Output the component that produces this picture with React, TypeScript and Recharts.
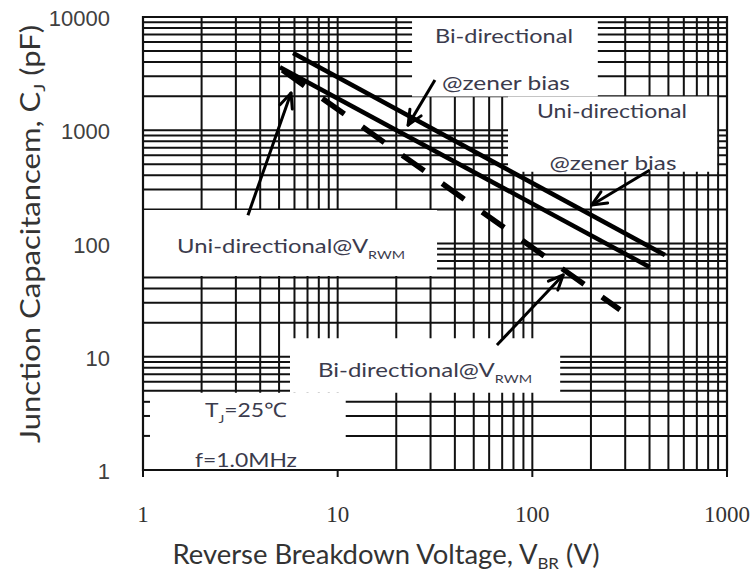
import React from 'react';
import {
  ComposedChart,
  Line,
  XAxis,
  YAxis,
  CartesianGrid,
  ReferenceArea,
  ReferenceLine,
  ReferenceDot,
} from 'recharts';

// ---- series (V_BR in volts, C_J in pF) ----
const biZenerBias = [
  { v: 5.9, c: 4800 },
  { v: 480, c: 79 },
];
const uniZenerBias = [
  { v: 5.05, c: 3600 },
  { v: 400, c: 62 },
];
const atVrwm = [
  { v: 5.2, c: 3400 },
  { v: 282, c: 26 },
];

// ---- axes ----
const X_TICKS = [1, 2, 3, 4, 5, 6, 7, 8, 9, 10, 20, 30, 40, 50, 60, 70, 80, 90, 100, 200, 300, 400, 500, 600, 700, 800, 900, 1000];
const Y_TICKS = [
  1, 2, 3, 4, 5, 6, 7, 8, 9, 10, 20, 30, 40, 50, 60, 70, 80, 90, 100, 200, 300, 400, 500, 600, 700, 800, 900, 1000,
  2000, 3000, 4000, 5000, 6000, 7000, 8000, 9000, 10000,
];
const X_LABEL_TICKS = [1, 10, 100, 1000];
const Y_LABEL_TICKS = [1, 10, 100, 1000, 10000];
const Y_INNER_TICKS = [2, 3, 4];

// ---- annotation boxes (white label backgrounds), data units ----
const BOX_V1 = [24.1, 75, 1, 5.69, 1];
const BOX_V2 = [217, 890, 32.4, 139, 11];
const BOX_C1 = [1990, 430, 51.6, 4.8, 1];
const BOX_C2 = [10000, 1990, 198, 14.6, 4.8];

// ---- arrows (tail -> tip), data units ----
const ARROW_TAIL_V = [3.46, 31.6, 402, 65.8];
const ARROW_TAIL_C = [178, 2780, 446, 12.7];
const ARROW_TIP_V = [5.76, 23, 202, 144];
const ARROW_TIP_C = [2130, 1110, 219, 52.7];

// ---- notes ----
const NOTE_V = [71.5, 73.2, 256.6, 259.6, 5.76, 28.1, 3.38, 3.38];
const NOTE_C = [5890, 2266, 1283, 446, 82.4, 6.62, 2.94, 1.063];
const NOTE_MAIN = ['Bi-directional', '@zener bias', 'Uni-directional', '@zener bias', 'Uni-directional@V', 'Bi-directional@V', 'T', 'f=1.0MHz'];
const NOTE_SUB = ['', '', '', '', 'RWM', 'RWM', 'J', ''];
const NOTE_AFTER = ['', '', '', '', '', '', '=25℃', ''];

const NOTE_WIDTH = [138, 128, 150, 127, 228, 214, 82, 102];

const LABEL_FONT = 'Lato, Carlito, "Open Sans", sans-serif';
const LABEL_COLOR = '#3b3b4d';

const XTick = (props: any) => {
  const { x, y, payload } = props;
  const v = payload.value;
  if (!X_LABEL_TICKS.includes(v)) return <g />;
  return (
    <g>
      <line x1={x} y1={y} x2={x} y2={y + 7} stroke="#111" strokeWidth={2} />
      <text
        x={x}
        y={y + 52}
        textAnchor="middle"
        fontFamily='"Liberation Serif", "Times New Roman", serif'
        fontSize={23}
        fill="#333"
      >
        {v}
      </text>
    </g>
  );
};

const YTick = (props: any) => {
  const { x, y, payload } = props;
  const v = payload.value;
  if (Y_LABEL_TICKS.includes(v)) {
    return (
      <text
        x={x - 33}
        y={y + 9}
        textAnchor="end"
        fontFamily='"Liberation Sans", Arial, sans-serif'
        fontSize={22}
        fill="#404040"
      >
        {v}
      </text>
    );
  }
  if (Y_INNER_TICKS.includes(v)) {
    return <line x1={x} y1={y} x2={x + 7} y2={y} stroke="#111" strokeWidth={2} />;
  }
  return <g />;
};

const XTitle = (props: any) => {
  const vb = props.viewBox || { x: 143, y: 470, width: 584, height: 114 };
  return (
    <text
      x={vb.x + 243}
      y={vb.y + 94}
      textAnchor="middle"
      fontFamily={LABEL_FONT}
      fontSize={26}
      fill="#333"
      textLength={427}
      lengthAdjust="spacingAndGlyphs"
    >
      Reverse Breakdown Voltage, V
      <tspan fontSize={16} dy={5}>BR</tspan>
      <tspan dy={-5}> (V)</tspan>
    </text>
  );
};

const YTitle = (props: any) => {
  const cx = 40;
  const cy = 234;
  return (
    <text
      x={cx}
      y={cy}
      transform={`rotate(-90, ${cx}, ${cy})`}
      textAnchor="middle"
      fontFamily={LABEL_FONT}
      fontSize={26}
      fill="#333"
      textLength={418}
      lengthAdjust="spacingAndGlyphs"
    >
      Junction Capacitancem, C
      <tspan fontSize={16} dy={5}>J</tspan>
      <tspan dy={-5}> (pF)</tspan>
    </text>
  );
};

const makeArrow = () => (p: any) => {
  const { x1, y1, x2, y2 } = p;
  const ang = Math.atan2(y2 - y1, x2 - x1);
  const L = 16;
  const spread = 0.42;
  const ax = x2 - L * Math.cos(ang - spread);
  const ay = y2 - L * Math.sin(ang - spread);
  const bx = x2 - L * Math.cos(ang + spread);
  const by = y2 - L * Math.sin(ang + spread);
  return (
    <g>
      <line x1={x1} y1={y1} x2={x2} y2={y2} stroke="#000" strokeWidth={3} />
      <line x1={x2} y1={y2} x2={ax} y2={ay} stroke="#000" strokeWidth={3} strokeLinecap="round" />
      <line x1={x2} y1={y2} x2={bx} y2={by} stroke="#000" strokeWidth={3} strokeLinecap="round" />
    </g>
  );
};

const makeNote = (i: number) => (p: any) => {
  const { cx, cy } = p;
  return (
    <text
      x={cx}
      y={cy}
      textAnchor="middle"
      fontFamily={LABEL_FONT}
      fontSize={20}
      fill={LABEL_COLOR}
      textLength={NOTE_WIDTH[i]}
      lengthAdjust="spacingAndGlyphs"
    >
      {NOTE_MAIN[i]}
      {NOTE_SUB[i] ? (
        <tspan fontSize={12} dy={6}>
          {NOTE_SUB[i]}
        </tspan>
      ) : null}
      {NOTE_AFTER[i] ? <tspan dy={-6}>{NOTE_AFTER[i]}</tspan> : null}
    </text>
  );
};

export default function App() {
  return (
    <div style={{ position: 'absolute', left: 0, top: 0, width: 755, height: 584, background: '#fff' }}>
      <ComposedChart width={755} height={584} margin={{ top: 17, right: 28, bottom: 0, left: 0 }}>
        <CartesianGrid
          stroke="#111"
          strokeWidth={2}
          horizontalValues={Y_TICKS}
          verticalValues={X_TICKS}
        />
        {BOX_V1.map((v1, i) => (
          <ReferenceArea
            key={'box' + i}
            x1={v1}
            x2={BOX_V2[i]}
            y1={BOX_C1[i]}
            y2={BOX_C2[i]}
            fill="#fff"
            fillOpacity={1}
            stroke="none"
            zIndex={50}
            ifOverflow="visible"
          />
        ))}
        <XAxis
          type="number"
          dataKey="v"
          scale="log"
          domain={[1, 1000]}
          ticks={X_TICKS}
          interval={0}
          allowDataOverflow
          tick={XTick}
          tickLine={false}
          axisLine={false}
          tickSize={0}
          tickMargin={0}
          height={114}
          label={{ content: XTitle }}
        />
        <YAxis
          type="number"
          dataKey="c"
          scale="log"
          domain={[1, 10000]}
          ticks={Y_TICKS}
          interval={0}
          allowDataOverflow
          tick={YTick}
          tickLine={false}
          axisLine={false}
          tickSize={0}
          tickMargin={0}
          width={143}
          label={{ content: YTitle }}
        />
        <Line
          data={biZenerBias}
          dataKey="c"
          type="linear"
          stroke="#000"
          strokeWidth={4.5}
          dot={false}
          activeDot={false}
          isAnimationActive={false}
          zIndex={400}
        />
        <Line
          data={uniZenerBias}
          dataKey="c"
          type="linear"
          stroke="#000"
          strokeWidth={4.5}
          dot={false}
          activeDot={false}
          isAnimationActive={false}
          zIndex={400}
        />
        <Line
          data={atVrwm}
          dataKey="c"
          type="linear"
          stroke="#000"
          strokeWidth={5.5}
          strokeDasharray="27 22"
          dot={false}
          activeDot={false}
          isAnimationActive={false}
          zIndex={400}
        />
        {ARROW_TAIL_V.map((tv, i) => (
          <ReferenceLine
            key={'arr' + i}
            segment={[
              { x: tv, y: ARROW_TAIL_C[i] },
              { x: ARROW_TIP_V[i], y: ARROW_TIP_C[i] },
            ]}
            shape={makeArrow()}
            zIndex={450}
          />
        ))}
        <ReferenceArea
          x1={1}
          x2={1000}
          y1={1}
          y2={10000}
          fill="none"
          stroke="#111"
          strokeWidth={2.2}
          zIndex={550}
          ifOverflow="visible"
        />
        {NOTE_V.map((v, i) => (
          <ReferenceDot
            key={'note' + i}
            x={v}
            y={NOTE_C[i]}
            r={0}
            shape={makeNote(i)}
            zIndex={600}
            ifOverflow="visible"
          />
        ))}
      </ComposedChart>
    </div>
  );
}
